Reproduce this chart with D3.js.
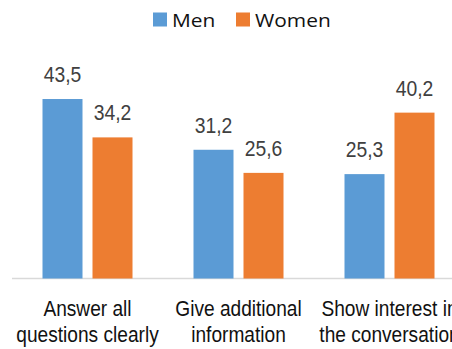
<!DOCTYPE html>
<html>
<head>
<meta charset="utf-8">
<script src="https://cdn.jsdelivr.net/npm/d3@7"></script>
<style>
  html, body { margin: 0; padding: 0; background: #fff; overflow: hidden; }
  svg { display: block; }
</style>
</head>
<body>
<svg id="chart" width="452" height="349"></svg>
<script>
// Chart data
const categories = [
  ["Answer all", "questions clearly"],
  ["Give additional", "information"],
  ["Show interest in", "the conversation"]
];
const seriesNames = ["Men", "Women"];
const menValues = [43.5, 31.2, 25.3];
const womenValues = [34.2, 25.6, 40.2];
const colors = ["#5B9BD5", "#ED7D31"];

const svg = d3.select("#chart");
const W = 452, H = 349;

// Plot area extends past the right edge, so the last label is clipped
const x0 = d3.scaleBand()
  .domain(d3.range(categories.length))
  .range([12, 465])
  .paddingInner(0)
  .paddingOuter(0);

const x1 = d3.scaleBand()
  .domain(seriesNames)
  .range([x0.bandwidth() / 2 - 45, x0.bandwidth() / 2 + 45])
  .paddingInner(0.2)
  .paddingOuter(0);

const y = d3.scaleLinear().domain([0, 50]).range([278.5, 278.5 - 206.3]);

const rows = categories.map((c, i) => ({
  i,
  vals: [menValues[i], womenValues[i]]
}));

// Axis line along the baseline
svg.append("line")
  .attr("x1", 12).attr("x2", W)
  .attr("y1", y(0)).attr("y2", y(0))
  .attr("stroke", "#d9d9d9").attr("stroke-width", 1.5);

const g = svg.selectAll("g.cat").data(rows).join("g")
  .attr("class", "cat")
  .attr("transform", d => `translate(${x0(d.i)},0)`);

g.selectAll("rect").data(d => d.vals.map((v, k) => ({ v, k }))).join("rect")
  .attr("x", d => x1(seriesNames[d.k]))
  .attr("width", x1.bandwidth())
  .attr("y", d => y(d.v))
  .attr("height", d => y(0) - y(d.v))
  .attr("fill", d => colors[d.k]);

// Value labels above each bar
const fmt = v => d3.format(".1f")(v).replace(".", ",");
g.selectAll("text.val").data(d => d.vals.map((v, k) => ({ v, k }))).join("text")
  .attr("class", "val")
  .attr("transform", d => `translate(${x1(seriesNames[d.k]) + x1.bandwidth() / 2},${y(d.v) - 17}) scale(0.86,1)`)
  .attr("text-anchor", "middle")
  .attr("font-family", "'Liberation Sans', Arial, sans-serif")
  .attr("font-size", 22.5)
  .attr("fill", "#404040")
  .text(d => fmt(d.v));

// Category labels, two lines each
g.each(function (d) {
  const sel = d3.select(this);
  categories[d.i].forEach((line, li) => {
    sel.append("text")
      .attr("transform", `translate(${x0.bandwidth() / 2},${315.7 + li * 26}) scale(0.85,1)`)
      .attr("text-anchor", "middle")
      .attr("font-family", "'Liberation Sans', Arial, sans-serif")
      .attr("font-size", 22.5)
      .attr("fill", "#111")
      .text(line);
  });
});

// Legend
const legend = svg.append("g");
const legendItems = [
  { name: "Men", x: 153, color: colors[0] },
  { name: "Women", x: 236, color: colors[1] }
];
legendItems.forEach(it => {
  legend.append("rect")
    .attr("x", it.x).attr("y", 12.5)
    .attr("width", 14).attr("height", 14)
    .attr("fill", it.color);
  legend.append("text")
    .attr("transform", `translate(${it.x + 19},26.7) scale(1.1,1)`)
    .attr("font-family", "'Open Sans', 'Noto Sans', sans-serif")
    .attr("font-size", 19)
    .attr("fill", "#111")
    .text(it.name);
});
</script>
</body>
</html>
